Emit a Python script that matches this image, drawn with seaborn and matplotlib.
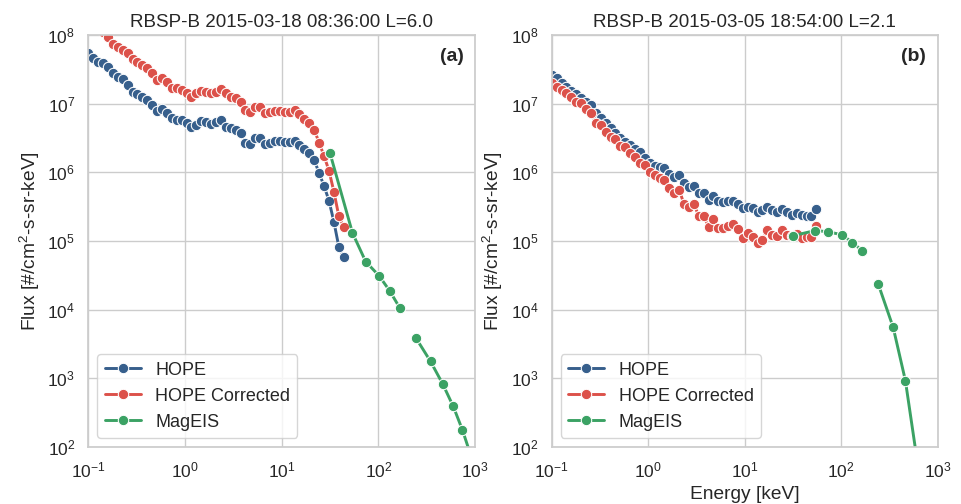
import numpy as np
import pandas as pd
import matplotlib
matplotlib.use("Agg")
import matplotlib.pyplot as plt
import seaborn as sns

# HOPE energy channels [keV]
energy_hope = [0.1000, 0.1124, 0.1264, 0.1420, 0.1597, 0.1795, 0.2018, 0.2268, 0.2549, 0.2866,
               0.3221, 0.3621, 0.4070, 0.4575, 0.5143, 0.5781, 0.6498, 0.7305, 0.8211, 0.9231,
               1.0375, 1.166, 1.311, 1.474, 1.657, 1.862, 2.093, 2.353, 2.645, 2.973,
               3.342, 3.757, 4.223, 4.747, 5.336, 5.998, 6.743, 7.579, 8.520, 9.577,
               10.77, 12.10, 13.60, 15.29, 17.19, 19.32, 21.72, 24.42, 27.44, 30.85,
               34.67, 38.97, 43.81, 49.25, 55.36]

# MagEIS energy channels [keV] (NaN marks the gap between detectors)
energy_mageis = [31.5, 54, 74, 102, 131, 166, np.nan, 243, 347, 464, 596, 740, 900]

# Panel (a): L=6.0
hope_a = [5.42e7, 4.58e7, 4.08e7, 3.95e7, 3.46e7, 2.77e7, 2.47e7, 2.26e7, 1.87e7, 1.50e7,
          1.38e7, 1.24e7, 1.13e7, 9.57e6, 7.91e6, 8.30e6, 7.24e6, 6.12e6, 5.79e6, 5.79e6,
          5.19e6, 4.53e6, 4.90e6, 5.60e6, 5.47e6, 5.07e6, 5.47e6, 5.79e6, 4.62e6, 4.39e6,
          4.14e6, 3.71e6, 2.65e6, 2.59e6, 3.13e6, 3.13e6, 2.59e6, 2.70e6, 2.86e6, 2.86e6,
          2.80e6, 2.80e6, 2.86e6, 2.51e6, 2.19e6, 1.94e6, 1.51e6, 9.7e5, 6.34e5, 3.87e5,
          1.91e5, 8.30e4, 5.81e4]
hope_corr_a = [1.9e8, 1.55e8, 1.3e8, 1.12e8,
               9.26e7, 7.40e7, 6.62e7, 6.05e7, 5.42e7, 4.43e7, 4.08e7, 3.66e7, 3.27e7, 2.82e7,
               2.21e7, 2.34e7, 2.09e7, 1.67e7, 1.67e7, 1.58e7, 1.45e7, 1.26e7, 1.45e7, 1.55e7,
               1.50e7, 1.42e7, 1.50e7, 1.62e7, 1.45e7, 1.26e7, 1.20e7, 1.07e7, 8.09e6, 7.65e6,
               8.87e6, 9.04e6, 7.24e6, 7.65e6, 7.91e6, 7.91e6, 7.65e6, 7.65e6, 8.09e6, 7.08e6,
               5.93e6, 5.19e6, 4.14e6, 2.70e6, 1.73e6, 1.06e6, 5.24e5, 2.32e5, 1.62e5]
mageis_a = [1.94e6, 1.31e5, 5.01e4, 3.10e4, 1.88e4, 1.07e4, np.nan, 3.93e3, 1.76e3, 824, 389, 178, 77]

# Panel (b): L=2.1
hope_b = [2.62e7, 2.34e7, 2.02e7, 1.77e7, 1.55e7, 1.38e7, 1.20e7, 1.04e7, 9.57e6, 7.24e6,
          6.12e6, 5.19e6, 4.39e6, 3.78e6, 3.13e6, 2.80e6, 2.51e6, 2.17e6, 2.00e6, 1.60e6,
          1.36e6, 1.24e6, 1.19e6, 1.16e6, 9.48e5, 8.65e5, 9.16e5, 6.93e5, 6.07e5, 6.34e5,
          4.97e5, 4.97e5, 3.96e5, 4.53e5, 3.87e5, 3.75e5, 3.84e5, 3.87e5, 3.47e5, 3.00e5,
          3.10e5, 3.00e5, 2.68e5, 2.84e5, 3.17e5, 2.84e5, 2.68e5, 2.93e5, 2.68e5, 2.40e5,
          2.59e5, 2.40e5, 2.32e5, 2.32e5, 2.93e5]
hope_corr_b = [1.98e7, 1.77e7, 1.58e7, 1.42e7, 1.24e7, 1.07e7, 1.01e7, 8.28e6, 7.24e6, 5.28e6,
               4.90e6, 3.91e6, 3.31e6, 3.03e6, 2.42e6, 2.32e6, 1.90e6, 1.69e6, 1.38e6, 1.28e6,
               1.02e6, 9.16e5, 8.20e5, 7.74e5, 5.87e5, 4.97e5, 5.55e5, 3.47e5, 3.10e5, 3.47e5,
               2.32e5, 2.32e5, 1.62e5, 2.07e5, 1.53e5, 1.53e5, 1.66e5, 1.77e5, 1.49e5, 1.10e5,
               1.30e5, 1.14e5, 9.48e4, 1.04e5, 1.45e5, 1.23e5, 1.19e5, 1.45e5, 1.23e5, 1.19e5,
               1.27e5, 1.10e5, 1.14e5, 1.14e5, 1.66e5]
mageis_b = [1.19e5, 1.42e5, 1.36e5, 1.23e5, 9.5e4, 7.18e4, np.nan, 2.35e4, 5.50e3, 929, 85, np.nan, np.nan]

x_ticks = [1e-1, 1e0, 1e1, 1e2, 1e3]
y_ticks = [1e2, 1e3, 1e4, 1e5, 1e6, 1e7, 1e8]

titles = ["RBSP-B 2015-03-18 08:36:00 L=6.0", "RBSP-B 2015-03-05 18:54:00 L=2.1"]
tags = ["(a)", "(b)"]
series_names = ["HOPE", "HOPE Corrected", "MagEIS"]
colors = ["#375f8c", "#dc514a", "#3ba264"]

sns.set_theme(style="whitegrid", context="notebook")
plt.rcParams["font.family"] = ["Liberation Sans", "DejaVu Sans"]

fig = plt.figure(figsize=(9.61, 5.04), dpi=100)
ax1 = fig.add_axes([0.0919, 0.1131, 0.4024, 0.8175])
ax2 = fig.add_axes([0.5741, 0.1131, 0.4015, 0.8175])

line_kw = dict(marker="o", markersize=7.5, linewidth=2.1, sort=False, estimator=None)


def segments(x, y):
    x = np.asarray(x, float)
    y = np.asarray(y, float)
    ok = ~(np.isnan(x) | np.isnan(y))
    segs, cur = [], []
    for i in range(len(x)):
        if ok[i]:
            cur.append(i)
        elif cur:
            segs.append(cur)
            cur = []
    if cur:
        segs.append(cur)
    return [(x[s], y[s]) for s in segs]


def draw(ax, hope, corr, mageis, title, tag, xlabel):
    ax.set_xscale("log")
    ax.set_yscale("log")
    for vals, name, col in [(hope, series_names[0], colors[0]), (corr, series_names[1], colors[1])]:
        df = pd.DataFrame({"Energy": energy_hope[:len(vals)], "Flux": vals})
        sns.lineplot(data=df, x="Energy", y="Flux", ax=ax, color=col, label=name, **line_kw)
    for k, (xs, ys) in enumerate(segments(energy_mageis, mageis)):
        df = pd.DataFrame({"Energy": xs, "Flux": ys})
        sns.lineplot(data=df, x="Energy", y="Flux", ax=ax, color=colors[2],
                     label=series_names[2] if k == 0 else None, legend=(k == 0), **line_kw)
    ax.set_xticks(x_ticks)
    ax.set_yticks(y_ticks)
    ax.xaxis.set_minor_locator(matplotlib.ticker.NullLocator())
    ax.yaxis.set_minor_locator(matplotlib.ticker.NullLocator())
    ax.set_xlim(0.1, 1000)
    ax.set_ylim(1e2, 1e8)
    ax.set_title(title, fontsize=13.5)
    ax.set_ylabel(r"Flux [#/cm$^{\mathdefault{2}}$-s-sr-keV]", fontsize=13.8)
    if xlabel:
        ax.set_xlabel(xlabel, fontsize=13.8)
    else:
        ax.set_xlabel("")
        ax.xaxis.label.set_visible(False)
    ax.tick_params(labelsize=12.5)
    ax.text(0.971, 0.968, tag, transform=ax.transAxes, ha="right", va="top",
            fontsize=14, fontweight="bold")
    ax.legend(loc="lower left", fontsize=13, frameon=True)


draw(ax1, hope_a, hope_corr_a, mageis_a, titles[0], tags[0], "")
draw(ax2, hope_b, hope_corr_b, mageis_b, titles[1], tags[1], "Energy [keV]")

fig.savefig("out.png", dpi=100)
